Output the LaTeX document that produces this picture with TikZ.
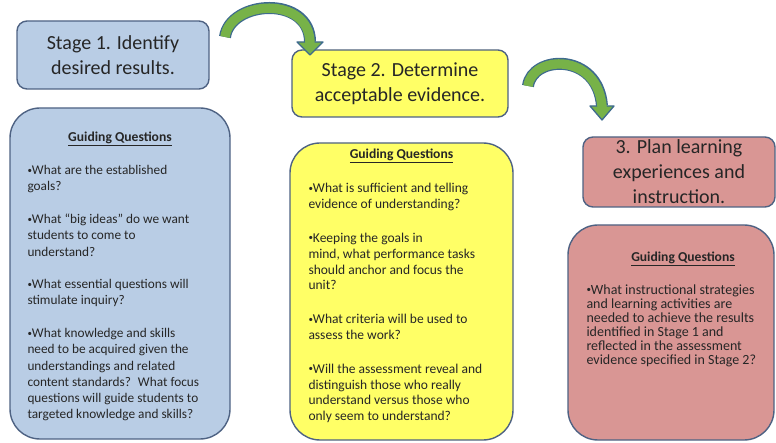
\documentclass[tikz,border=0pt]{standalone}
\usepackage{fontspec}
\setmainfont{Carlito}
\usepackage{tikz}
\usetikzlibrary{positioning, calc}

\definecolor{edgec}{HTML}{4E6283}
\definecolor{bluef}{HTML}{B9CDE5}
\definecolor{yellowf}{HTML}{FFFF66}
\definecolor{redf}{HTML}{D99694}
\definecolor{arrowf}{HTML}{77B248}
\definecolor{arrowe}{HTML}{3E6A8E}
\definecolor{txtc}{HTML}{262626}

\newcommand{\qdot}{\raisebox{1.6pt}{\fontsize{9}{9}\selectfont •}}

\begin{document}
\begin{tikzpicture}[
  x=1pt, y=-1pt,
  every node/.style={text=txtc},
  stagebox/.style = {draw=edgec, line width=1.4pt, rounded corners=10pt, align=center, inner sep=0pt,
                     font=\fontsize{20}{25}\selectfont},
  guidebox/.style = {draw=edgec, line width=1.4pt, rounded corners=30pt, inner sep=0pt},
  ghead/.style    = {anchor=base, inner sep=0pt, font=\fontsize{13.6}{16}\selectfont\bfseries},
  gbody/.style    = {anchor=north west, inner sep=0pt, align=left},
  shaftout/.style = {line width=12pt, arrowe},
  shaftin/.style  = {line width=9.4pt, arrowf, shorten >=-1.5pt},
  headtip/.style  = {fill=arrowf, draw=arrowe, line width=1.3pt, line join=round},
]
  \useasboundingbox (0,0) rectangle (776,443);

  % stage boxes
  \node[stagebox, fill=bluef,   minimum width=192pt, minimum height=68pt] (s1) at (113,55)
       {Stage 1. Identify\\desired results.};
  \node[stagebox, fill=yellowf, minimum width=216pt, minimum height=67pt] (s2) at (400,83.5)
       {Stage 2. Determine\\acceptable evidence.};
  \node[stagebox, fill=redf,    minimum width=192pt, minimum height=70pt] (s3) at (679,172)
       {3. Plan learning\\experiences and\\instruction.};

  % guiding question boxes
  \node[guidebox, fill=bluef,   minimum width=220pt, minimum height=331pt] (g1) at (120,273.5) {};
  \node[guidebox, fill=yellowf, minimum width=223pt, minimum height=297pt] (g2) at (401.5,291.5) {};
  \node[guidebox, fill=redf,    minimum width=206pt, minimum height=215pt] (g3) at (671,332.5) {};

  \node[ghead] (h1) at ($(g1.north)+(0,34)$) {\underline{Guiding Questions}};
  \node[ghead] (h2) at ($(g2.north)+(0,16)$) {\underline{Guiding Questions}};
  \node[ghead] (h3) at ($(g3.north)+(12,37)$) {\underline{Guiding Questions}};

  \node[gbody, font=\fontsize{13.3}{16.2}\selectfont] (b1) at ($(g1.north west)+(18,58)$)
       {\qdot What are the established\\goals?\\[16.5pt]
        \qdot What “big ideas” do we want\\students to come to\\understand?\\[16.5pt]
        \qdot What essential questions will\\stimulate inquiry?\\[16.5pt]
        \qdot What knowledge and skills\\need to be acquired given the\\understandings and related\\
        content standards?~ What focus\\questions will guide students to\\targeted knowledge and skills?};
  \node[gbody, font=\fontsize{13.5}{15.8}\selectfont] (b2) at ($(g2.north west)+(19,41)$)
       {\qdot What is sufficient and telling\\evidence of understanding?\\[18pt]
        \qdot Keeping the goals in\\mind, what performance tasks\\should anchor and focus the\\unit?\\[18pt]
        \qdot What criteria will be used to\\assess the work?\\[18pt]
        \qdot Will the assessment reveal and\\distinguish those who really\\understand versus those who\\
        only seem to understand?};
  \node[gbody, font=\fontsize{14}{14}\selectfont] (b3) at ($(g3.north west)+(19,60)$)
       {\qdot What instructional strategies\\and learning activities are\\needed to achieve the results\\
        identified in Stage 1 and\\reflected in the assessment\\evidence specified in Stage 2?};

  % curved arrows
  \coordinate (a1s) at (225,37);
  \coordinate (a1e) at (310,42);
  \coordinate (a2s) at (528,86);
  \coordinate (a2e) at (602,106);
  \draw[shaftout] (a1s) .. controls (230,0) and (310,-5) .. (a1e);
  \draw[headtip] (297,42) -- (310,55) -- (323,42) -- cycle;
  \draw[shaftin] (a1s) .. controls (230,0) and (310,-5) .. (a1e);
  \draw[shaftout] (a2s) .. controls (532,55) and (598,52) .. (a2e);
  \draw[headtip] (590,106) -- (602,120) -- (614,106) -- cycle;
  \draw[shaftin] (a2s) .. controls (532,55) and (598,52) .. (a2e);
\end{tikzpicture}
\end{document}
